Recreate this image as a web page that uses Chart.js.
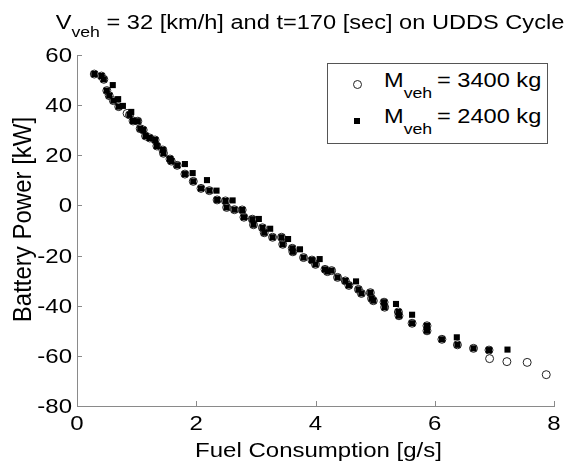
<!DOCTYPE html>
<html><head><meta charset="utf-8">
<script src="https://cdn.jsdelivr.net/npm/chart.js@4"></script>
<style>
html,body{margin:0;padding:0;background:#fff;}
#wrap{position:relative;width:570px;height:466px;font-family:"Liberation Sans",Arial,sans-serif;color:#000;overflow:hidden;}
canvas{position:absolute;left:0;top:0;}
.title{position:absolute;left:310px;top:10px;transform:translateX(-50%) scaleX(1.18);font-size:20px;line-height:24px;white-space:nowrap;}
.sub{font-size:15px;position:relative;top:8px;}
.legend{position:absolute;left:327px;top:63px;width:219px;height:79px;border:1px solid #555;background:#fff;}
.row{position:absolute;left:56px;font-size:20px;line-height:24px;white-space:nowrap;transform:scaleX(1.18);transform-origin:0 0;}
.lsub{font-size:15px;position:relative;top:11px;margin-right:4px;}
.mk-c{position:absolute;width:7px;height:7px;border:1px solid #222;border-radius:50%;background:#fff;}
.mk-s{position:absolute;width:6px;height:6px;background:#000;}
</style></head>
<body>
<div id="wrap">
<canvas id="c" width="570" height="466"></canvas>
<div class="title">V<span class="sub">veh</span> = 32 [km/h] and t=170 [sec] on UDDS Cycle</div>
<div class="legend">
  <span class="mk-c" style="left:25px;top:16px;"></span>
  <div class="row" style="top:4px;">M<span class="lsub">veh</span>= 3400 kg</div>
  <span class="mk-s" style="left:26px;top:54px;"></span>
  <div class="row" style="top:40px;">M<span class="lsub">veh</span>= 2400 kg</div>
</div>
</div>
<script>
// Series: vehicle mass 3400 kg (open circles)
const fuel3400 = [0.29,0.41,0.45,0.50,0.54,0.61,0.70,0.84,0.88,0.94,1.02,1.06,1.11,1.15,1.22,1.31,1.34,1.44,1.45,1.56,1.58,1.68,1.81,1.95,2.08,2.22,2.35,2.49,2.51,2.64,2.77,2.80,2.94,2.96,3.11,3.14,3.28,3.43,3.45,3.61,3.62,3.80,3.94,4.00,4.16,4.20,4.27,4.37,4.50,4.56,4.72,4.77,4.92,4.94,4.97,5.15,5.16,5.39,5.40,5.62,5.87,5.87,6.12,6.38,6.65,6.91,6.92,7.21,7.55,7.87];
const power3400 = [52.4,51.6,50.3,45.8,43.8,41.8,39.4,36.7,36.1,33.7,33.6,30.6,30.1,27.7,26.9,26.1,23.7,22.1,20.8,18.5,17.7,16.0,12.5,9.6,6.8,5.9,2.2,1.8,-0.8,-1.7,-1.8,-4.7,-5.5,-7.7,-8.9,-10.9,-12.7,-12.7,-15.5,-17.1,-18.5,-20.8,-21.8,-23.5,-25.5,-26.4,-26.0,-28.7,-30.1,-31.9,-33.5,-35.1,-34.8,-37.1,-38.0,-38.6,-40.6,-42.5,-44.0,-47.0,-48.0,-50.0,-53.4,-55.6,-57.0,-57.7,-61.1,-62.3,-62.6,-67.5];
// Series: vehicle mass 2400 kg (filled squares)
const fuel2400 = [0.29,0.41,0.45,0.50,0.54,0.60,0.61,0.69,0.70,0.77,0.88,0.91,0.94,1.02,1.06,1.11,1.15,1.22,1.31,1.34,1.44,1.45,1.56,1.58,1.68,1.81,1.81,1.94,1.95,2.08,2.18,2.22,2.34,2.35,2.49,2.51,2.61,2.64,2.77,2.80,2.94,2.96,3.05,3.11,3.14,3.24,3.28,3.43,3.45,3.54,3.61,3.62,3.74,3.80,3.94,4.00,4.07,4.16,4.20,4.27,4.37,4.50,4.56,4.68,4.72,4.77,4.92,4.94,4.97,5.15,5.16,5.35,5.39,5.40,5.62,5.62,5.87,5.87,6.12,6.37,6.38,6.65,6.91,7.22];
const power2400 = [52.4,51.6,50.3,45.8,43.8,48.0,41.8,42.4,39.4,39.7,36.1,37.3,33.7,33.6,30.6,30.1,27.7,26.9,26.1,23.7,22.1,20.8,18.5,17.7,16.0,16.5,12.5,12.9,9.6,6.8,10.1,5.9,5.9,2.2,1.8,-0.8,2.0,-1.7,-1.8,-4.7,-5.5,-7.7,-5.4,-8.9,-10.9,-9.3,-12.7,-12.7,-15.5,-13.4,-17.1,-18.5,-17.5,-20.8,-21.8,-23.5,-21.4,-25.5,-26.4,-26.0,-28.7,-30.1,-31.9,-30.3,-33.5,-35.1,-34.8,-37.1,-38.0,-38.6,-40.6,-39.3,-42.5,-44.0,-43.6,-47.0,-48.0,-50.0,-53.4,-52.6,-55.6,-57.0,-57.7,-57.5];
const xTickValues = [0,2,4,6,8];
const yTickValues = [-80,-60,-40,-20,0,20,40,60];
const seriesNames = ['M_veh = 3400 kg','M_veh = 2400 kg'];

const AXIS = '#8a8a8a';
const FONT = '"Liberation Sans", Arial, sans-serif';
const STRETCH = 1.2;

const inwardTicks = {
  id:'inwardTicks',
  afterDatasetsDraw(chart){
    const {ctx, chartArea:a, scales:{x,y}} = chart;
    ctx.save(); ctx.strokeStyle = AXIS; ctx.lineWidth = 1; ctx.beginPath();
    x.ticks.forEach(t=>{const px=Math.round(x.getPixelForValue(t.value))+0.5; ctx.moveTo(px,a.bottom); ctx.lineTo(px,a.bottom-5);});
    y.ticks.forEach(t=>{const py=Math.round(y.getPixelForValue(t.value))+0.5; ctx.moveTo(a.left,py); ctx.lineTo(a.left+5,py);});
    ctx.stroke(); ctx.restore();
  }
};

// Draws tick labels and axis titles (from the scales' own ticks/options) in a slightly wide face
const axisText = {
  id:'axisText',
  afterDraw(chart){
    const {ctx, chartArea:a, scales:{x,y}} = chart;
    ctx.save();
    ctx.fillStyle = '#000';
    ctx.font = '20px ' + FONT;
    ctx.textBaseline = 'alphabetic';
    ctx.textAlign = 'right';
    y.ticks.forEach(t=>{
      const py = y.getPixelForValue(t.value);
      ctx.save(); ctx.translate(a.left-5, py+7); ctx.scale(STRETCH,1);
      ctx.fillText(t.label ?? String(t.value),0,0); ctx.restore();
    });
    ctx.textAlign = 'center';
    x.ticks.forEach(t=>{
      const px = x.getPixelForValue(t.value);
      ctx.save(); ctx.translate(px, a.bottom+24); ctx.scale(STRETCH,1);
      ctx.fillText(t.label ?? String(t.value),0,0); ctx.restore();
    });
    ctx.save(); ctx.translate((a.left+a.right)/2+3, a.bottom+51); ctx.scale(STRETCH,1);
    ctx.fillText(x.options.title.text,0,0); ctx.restore();
    ctx.font = '24px ' + FONT;
    ctx.save(); ctx.translate(31, (a.top+a.bottom)/2-11); ctx.rotate(-Math.PI/2); ctx.scale(1,1.05);
    ctx.fillText(y.options.title.text,0,0); ctx.restore();
    ctx.restore();
  }
};

new Chart(document.getElementById('c'), {
  type:'scatter',
  data:{datasets:[
    {label:seriesNames[0], data:fuel3400.map((v,i)=>({x:v,y:power3400[i]})), order:2,
     pointStyle:'circle', pointRadius:4, pointBackgroundColor:'#fff', pointBorderColor:'#222', pointBorderWidth:1, clip:false},
    {label:seriesNames[1], data:fuel2400.map((v,i)=>({x:v,y:power2400[i]})), order:1,
     pointStyle:'rect', pointRadius:4.3, pointBackgroundColor:'#000', pointBorderColor:'#000', pointBorderWidth:0, clip:false}
  ]},
  options:{
    responsive:false, animation:false, devicePixelRatio:1,
    layout:{padding:{top:55,right:16,bottom:0,left:0}},
    plugins:{legend:{display:false}, title:{display:false}, tooltip:{enabled:false}},
    scales:{
      x:{type:'linear', min:0, max:8,
        afterBuildTicks:s=>{s.ticks = xTickValues.map(v=>({value:v}));},
        afterFit:s=>{s.height = 60;},
        grid:{display:false}, border:{display:true,color:AXIS,width:1},
        ticks:{display:false},
        title:{display:false, text:'Fuel Consumption [g/s]'}
      },
      y:{type:'linear', min:-80, max:60,
        afterBuildTicks:s=>{s.ticks = yTickValues.map(v=>({value:v}));},
        afterFit:s=>{s.width = 77;},
        grid:{display:false}, border:{display:true,color:AXIS,width:1},
        ticks:{display:false},
        title:{display:false, text:'Battery Power [kW]'}
      }
    }
  },
  plugins:[inwardTicks, axisText]
});
</script>
</body></html>
